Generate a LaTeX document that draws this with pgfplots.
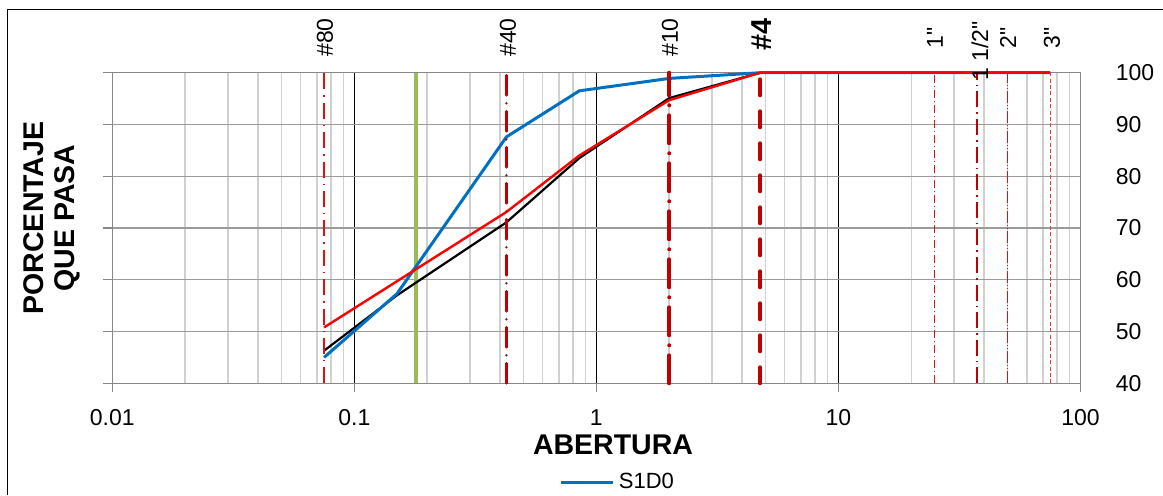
\documentclass[border=0pt]{standalone}
\usepackage{fontspec}
\setmainfont{Liberation Sans}
\newfontfamily\arialfont{Liberation Sans}
\usepackage{pgfplots}
\pgfplotsset{compat=1.18}
\definecolor{sblue}{RGB}{0,112,192}
\definecolor{dred}{RGB}{192,0,0}
\definecolor{mred}{RGB}{215,20,20}
\definecolor{lred}{RGB}{235,60,60}
\definecolor{sgreen}{RGB}{155,187,89}
\definecolor{gridgray}{RGB}{155,155,155}
\definecolor{axgray}{RGB}{135,135,135}
\definecolor{minorgray}{RGB}{208,208,208}
\begin{document}
\begin{tikzpicture}
\useasboundingbox (0,0) rectangle (581.5pt,247.5pt);
\draw[black, line width=0.5pt] (3.75pt,0pt) -- (3.75pt,243pt) -- (581.5pt,243pt);
\begin{axis}[
  at={(56.15pt,55.85pt)}, anchor=south west,
  scale only axis, width=484.1pt, height=155.3pt,
  xmode=log, xmin=0.01, xmax=100, ymin=40, ymax=100,
  clip=false,
  xtick={0.1,1,10}, xticklabels={0.1,1,10},
  extra x ticks={0.01,100}, extra x tick labels={0.01,100},
  extra x tick style={grid=none},
  minor xtick={0.02,0.03,0.04,0.05,0.06,0.07,0.08,0.09,0.2,0.3,0.4,0.5,0.6,0.7,0.8,0.9,2,3,4,5,6,7,8,9,20,30,40,50,60,70,80,90},
  ytick={40,50,60,70,80,90,100},
  xtick pos=bottom,
  ytick pos=left, yticklabel pos=right,
  tick align=outside,
  major tick length=4.5pt, minor tick length=0pt,
  tick style={axgray, line width=0.6pt},
  xmajorgrids, xminorgrids, ymajorgrids,
  minor grid style={minorgray, line width=0.75pt},
  major x grid style={black, line width=0.5pt},
  major y grid style={gridgray, line width=0.65pt},
  axis line style={axgray, line width=0.7pt},
  /pgf/number format/assume math mode=true,
  ticklabel style={font=\fontsize{11.5}{14}\selectfont},
  yticklabel style={anchor=west, inner sep=0pt, xshift=13pt},
  xticklabel style={anchor=north, inner sep=0pt, yshift=-8.3pt},
  legend style={at={(0.5233,-0.3194)}, anchor=center, draw=none, fill=none,
    font=\fontsize{11}{14}\selectfont, legend cell align=left},
  legend image code/.code={\draw[#1] (0pt,0pt) -- (26pt,0pt);},
]
% green reference line
\addplot[sgreen, line width=2pt, forget plot] coordinates {(0.18,40) (0.18,100)};
% black curve
\addplot[black, line width=1.1pt, forget plot] coordinates {
(0.075,46.3) (0.15,57.0) (0.425,71.1) (0.85,83.5) (2.0,95.1) (4.75,100) (75,100)};
% blue S1D0
\addplot[sblue, line width=1.5pt] coordinates {
(0.075,45.0) (0.15,57.3) (0.425,87.6) (0.85,96.5) (2.0,98.9) (4.75,100) (75,100)};
\addlegendentry{S1D0}
% red curve
\addplot[red, line width=1.2pt, forget plot] coordinates {
(0.075,50.8) (0.425,73.1) (0.85,84.0) (2.0,94.7) (4.75,100) (75,100)};
% sieve lines
\addplot[mred, line width=0.6pt, dash pattern=on 8pt off 3pt on 0.7pt off 3pt, forget plot] coordinates {(0.075,40) (0.075,100)};
\addplot[dred, line width=1.3pt, line cap=round, dash pattern=on 10pt off 4pt on 0pt off 4pt, forget plot] coordinates {(0.425,40) (0.425,100)};
\addplot[dred, line width=2pt, line cap=round, dash pattern=on 14pt off 5pt on 0pt off 5pt, forget plot] coordinates {(2.0,40) (2.0,100)};
\addplot[dred, line width=2pt, line cap=round, dash pattern=on 8pt off 8pt, forget plot] coordinates {(4.75,40) (4.75,100)};
\addplot[mred, line width=0.6pt, dash pattern=on 4pt off 1.5pt on 0.5pt off 1.5pt, forget plot] coordinates {(25,40) (25,100)};
\addplot[dred, line width=1pt, dash pattern=on 8pt off 2.5pt on 0.8pt off 2.5pt, forget plot] coordinates {(37.5,40) (37.5,100)};
\addplot[mred, line width=0.6pt, dash pattern=on 6pt off 1pt on 0.5pt off 1pt on 0.5pt off 1pt, forget plot] coordinates {(50,40) (50,100)};
\addplot[lred, line width=0.6pt, dash pattern=on 2pt off 1.2pt, forget plot] coordinates {(75,40) (75,100)};
\end{axis}
% sieve labels
\begin{scope}[every node/.style={rotate=90, anchor=center, inner sep=0pt, font=\fontsize{11.5}{14}\selectfont}]
\node at (162.5pt,228.75pt) {\#80};
\node at (254pt,228.75pt) {\#40};
\node at (335pt,228.75pt) {\#10};
\node[font=\fontsize{14.4}{17}\selectfont\bfseries] at (381pt,230.5pt) {\#4};
\node at (467.5pt,228.5pt) {1\textquotedbl};
\node at (490pt,222pt) {1 1/2\textquotedbl};
\node at (504pt,228.5pt) {2\textquotedbl};
\node at (526pt,228.5pt) {3\textquotedbl};
\end{scope}
% axis titles
\node[rotate=90, align=center, inner sep=0pt, font=\arialfont\bfseries\fontsize{14.25}{15.5}\selectfont] at (26pt,138.5pt) {PORCENTAJE\\QUE PASA};
\node[inner sep=0pt, font=\arialfont\bfseries\fontsize{14.25}{16}\selectfont] at (306.5pt,25pt) {ABERTURA};
\end{tikzpicture}
\end{document}
